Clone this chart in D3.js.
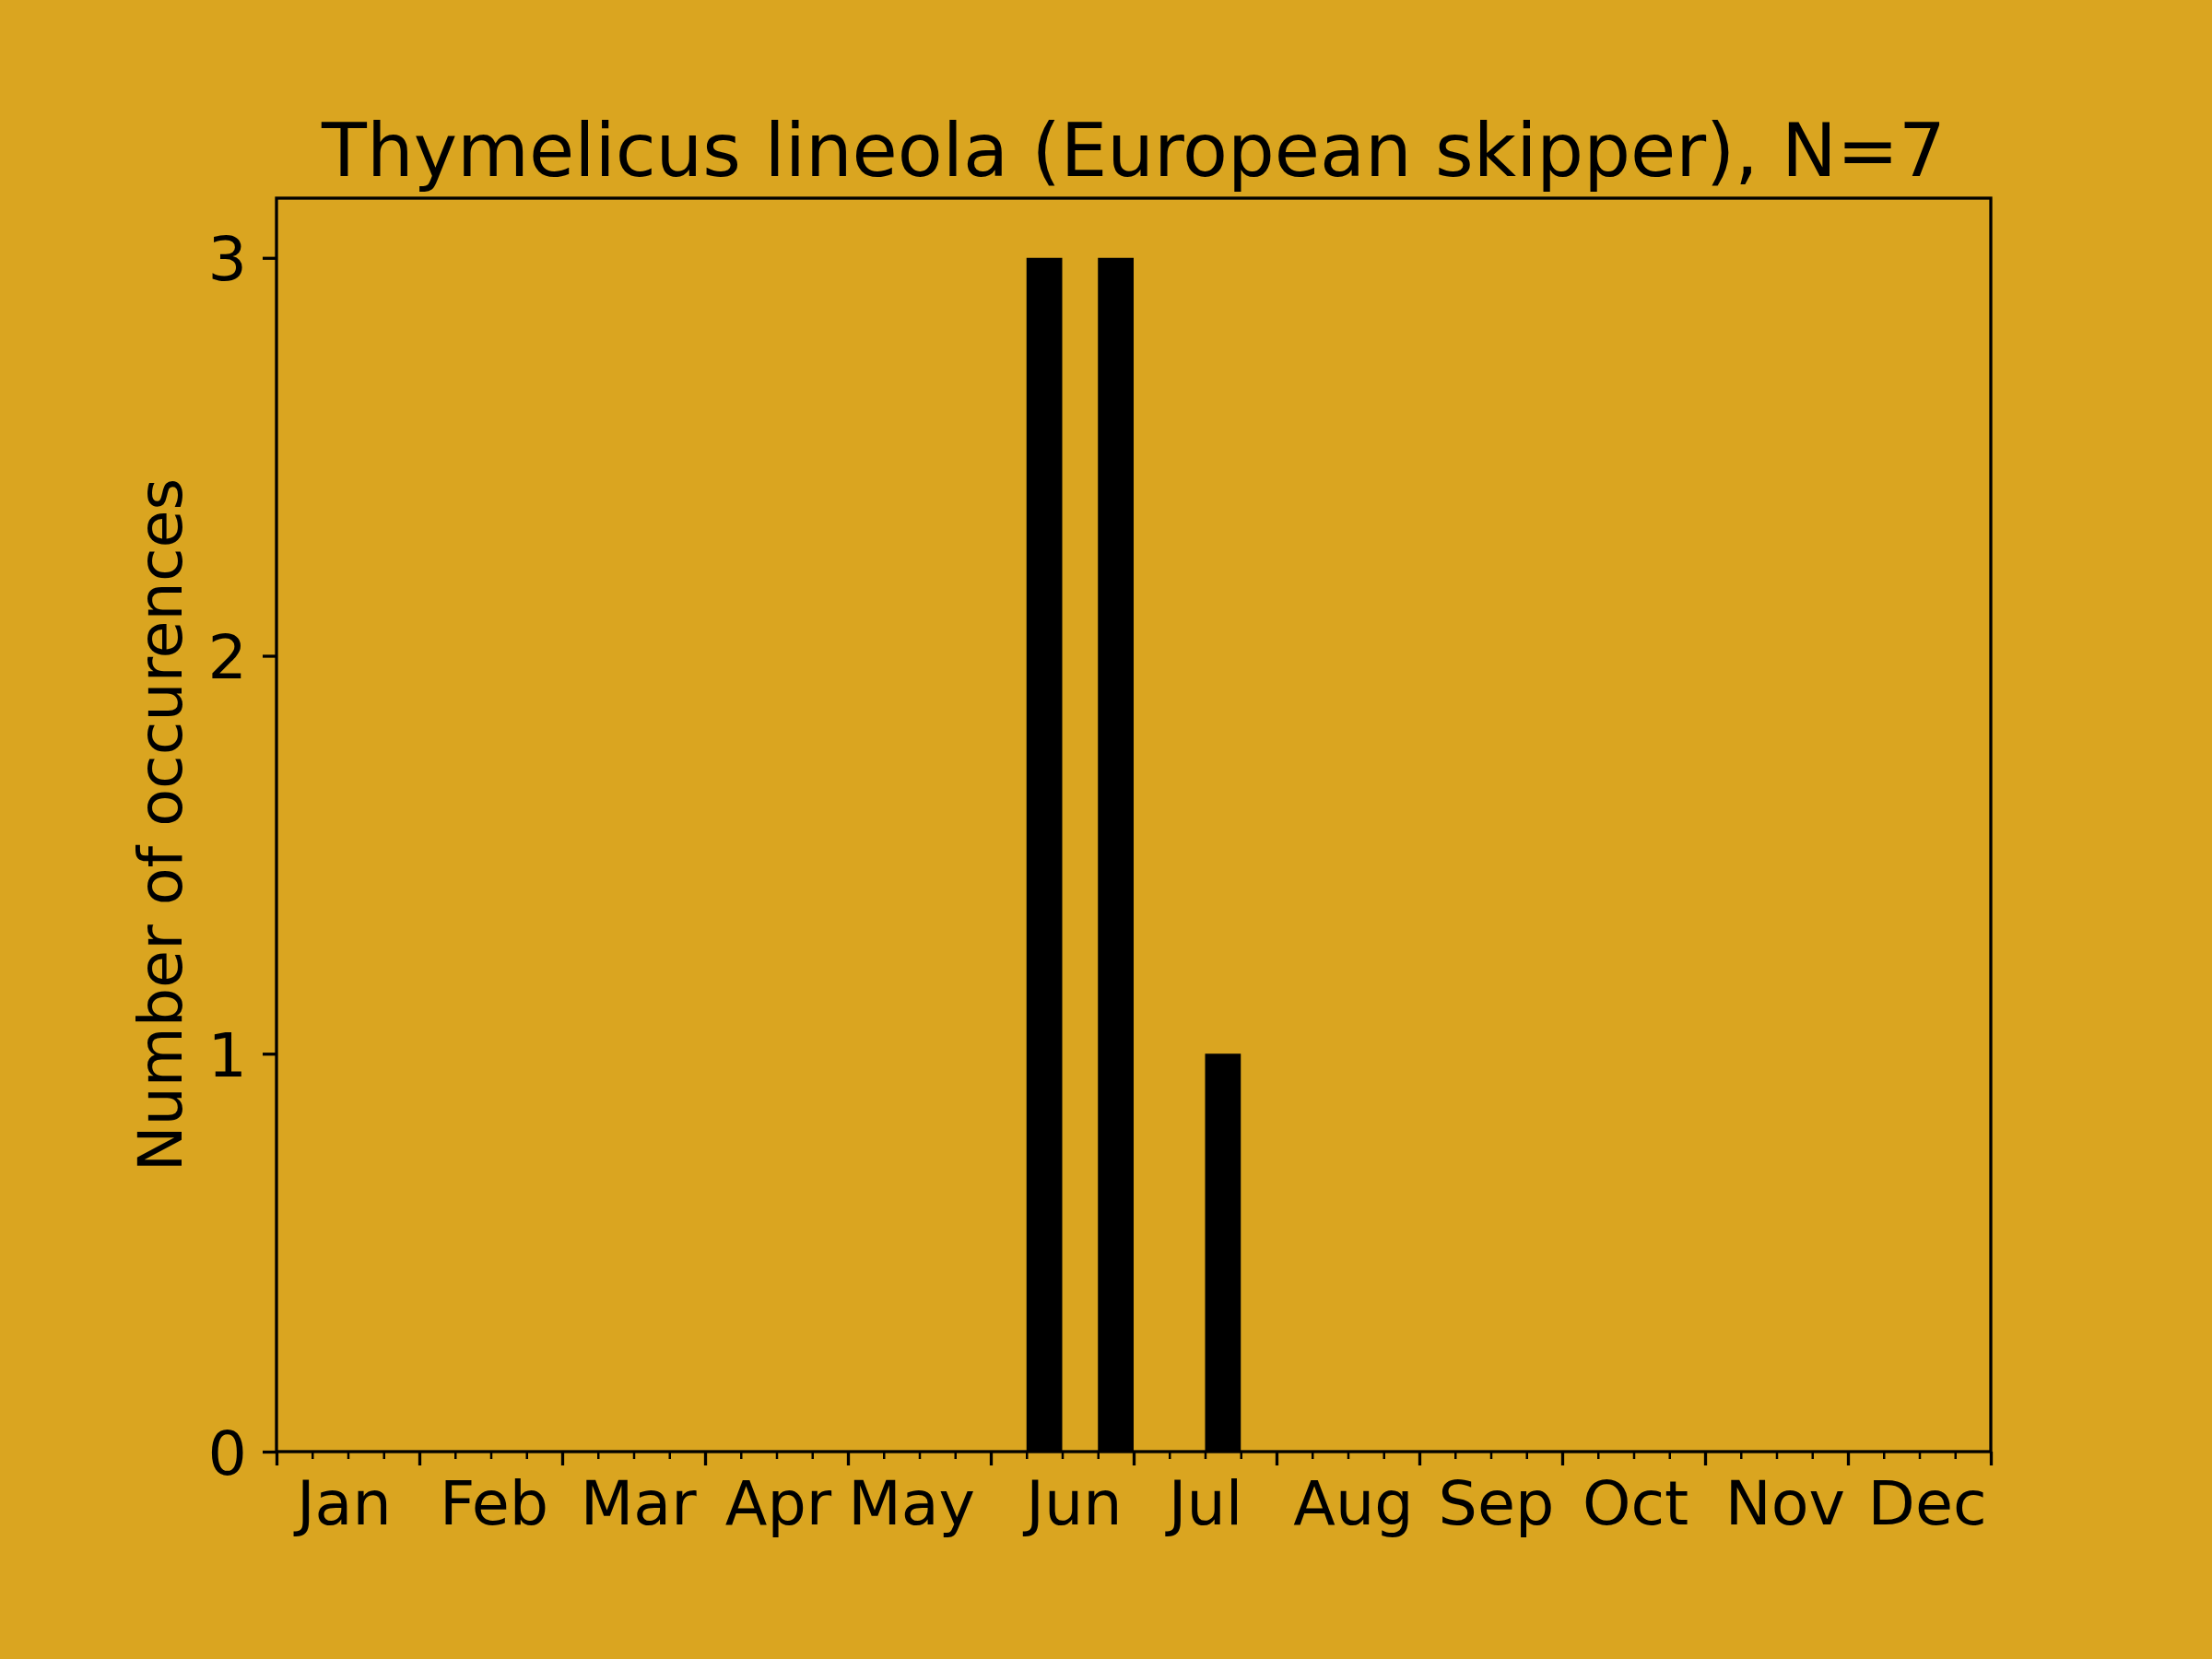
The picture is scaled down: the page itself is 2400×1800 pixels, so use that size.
<!DOCTYPE html>
<html>
<head>
<meta charset="utf-8">
<script src="https://cdn.jsdelivr.net/npm/d3@7"></script>
<style>
  html, body { margin: 0; padding: 0; background: #DAA520; }
  svg { display: block; }
  text { font-family: "DejaVu Sans", sans-serif; fill: #000; }
</style>
</head>
<body>
<svg id="chart" width="2400" height="1800"></svg>
<script>
// ---- data ----
const title = "Thymelicus lineola (European skipper), N=7";
const yLabel = "Number of occurences";
const months = ["Jan","Feb","Mar","Apr","May","Jun","Jul","Aug","Sep","Oct","Nov","Dec"];
// month label tick locations, in weekly-bin units
const monthTickPos = [1.88, 6.08, 10.12, 14.04, 17.77, 22.32, 26.0, 30.14, 34.14, 38.04, 42.23, 46.21];
const binsPerMonth = 4;
// weekly counts (4 bins per month, 48 bins)
const counts = [
  0,0,0,0,  0,0,0,0,  0,0,0,0,  0,0,0,0,  0,0,0,0,
  0,3,0,3,  0,0,1,0,  0,0,0,0,  0,0,0,0,  0,0,0,0,
  0,0,0,0,  0,0,0,0
];
const yTicks = [0, 1, 2, 3];

// ---- layout ----
const W = 2400, H = 1800;
const mLeft = 300, mRight = 2160, mTop = 215, mBottom = 1575;
const nBins = counts.length;

const svg = d3.select("#chart");
svg.append("rect").attr("width", W).attr("height", H).attr("fill", "#DAA520");

const x = d3.scaleLinear().domain([0, nBins]).range([mLeft, mRight]);
const yMax = d3.max(counts) * 1.05;
const y = d3.scaleLinear().domain([0, yMax]).range([mBottom, mTop]);

// bars
svg.append("g").selectAll("rect")
  .data(counts.map((v, i) => ({ i, v })).filter(d => d.v > 0))
  .join("rect")
  .attr("x", d => x(d.i))
  .attr("width", d => x(d.i + 1) - x(d.i))
  .attr("y", d => y(d.v))
  .attr("height", d => y(0) - y(d.v))
  .attr("fill", "#000");

// x axis: major ticks at month boundaries
const majorVals = d3.range(0, nBins + 1, binsPerMonth);
const minorVals = d3.range(0, nBins + 1).filter(v => v % binsPerMonth !== 0);

const gMajor = svg.append("g").attr("transform", `translate(0,${mBottom})`)
  .call(d3.axisBottom(x).tickValues(majorVals).tickSize(15).tickFormat(""));
const gMinor = svg.append("g").attr("transform", `translate(0,${mBottom})`)
  .call(d3.axisBottom(x).tickValues(minorVals).tickSize(8).tickFormat(""));
[gMajor, gMinor].forEach(g => {
  g.select(".domain").remove();
  g.selectAll(".tick line").attr("stroke", "#000");
});
gMajor.selectAll(".tick line").attr("stroke-width", 3.3);
gMinor.selectAll(".tick line").attr("stroke-width", 2.5);

// month labels
const gLab = svg.append("g").attr("transform", `translate(0,${mBottom})`)
  .call(d3.axisBottom(x).tickValues(monthTickPos).tickSize(0)
    .tickFormat((d, i) => months[i]));
gLab.select(".domain").remove();
gLab.selectAll(".tick text")
  .attr("y", 79).attr("dy", null)
  .attr("fill", "#000")
  .style("font-size", "66.7px")
  .style("font-family", "'DejaVu Sans', sans-serif");

// y axis
const gy = svg.append("g").attr("transform", `translate(${mLeft},0)`)
  .call(d3.axisLeft(y).tickValues(yTicks).tickSize(15).tickPadding(17).tickFormat(d3.format("d")));
gy.select(".domain").remove();
gy.selectAll(".tick line").attr("stroke", "#000").attr("stroke-width", 3.3);
gy.selectAll(".tick text")
  .attr("fill", "#000")
  .style("font-size", "66.7px")
  .style("font-family", "'DejaVu Sans', sans-serif")
  .attr("dy", "0.36em");

// frame
svg.append("rect")
  .attr("x", mLeft).attr("y", mTop)
  .attr("width", mRight - mLeft).attr("height", mBottom - mTop)
  .attr("fill", "none").attr("stroke", "#000").attr("stroke-width", 3.3);

// title
svg.append("text")
  .attr("x", (mLeft + mRight) / 2).attr("y", 191)
  .attr("text-anchor", "middle")
  .style("font-size", "80px")
  .text(title);

// y label
svg.append("text")
  .attr("transform", `translate(197,${(mTop + mBottom) / 2}) rotate(-90)`)
  .attr("text-anchor", "middle")
  .style("font-size", "66.7px")
  .text(yLabel);
</script>
</body>
</html>
